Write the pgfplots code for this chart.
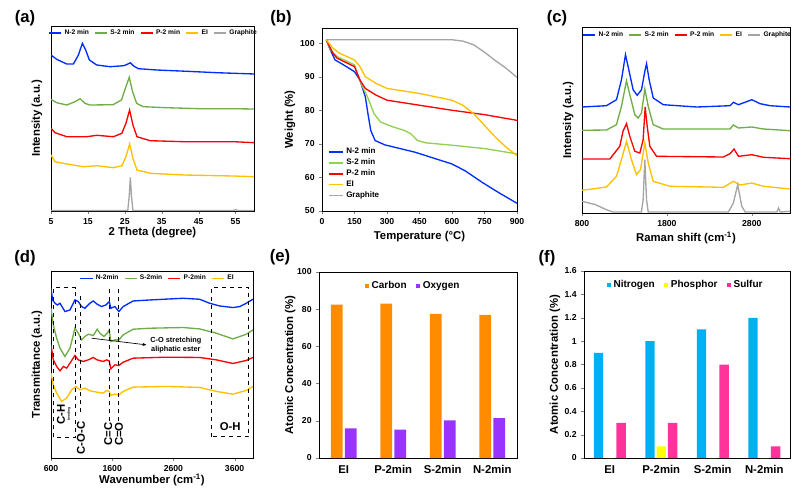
\documentclass[border=0pt]{standalone}
\usepackage{fontspec}
\setmainfont{Liberation Sans}
\usepackage{pgfplots}
\pgfplotsset{compat=1.18}
\usetikzlibrary{arrows.meta}
\definecolor{cblue}{RGB}{0,45,255}
\definecolor{cgreen}{RGB}{112,173,71}
\definecolor{lgreen}{RGB}{146,208,80}
\definecolor{cred}{RGB}{255,0,0}
\definecolor{cyel}{RGB}{255,192,0}
\definecolor{cgray}{RGB}{165,165,165}
\definecolor{corange}{RGB}{255,140,0}
\definecolor{cpurple}{RGB}{153,51,255}
\definecolor{cnit}{RGB}{0,176,240}
\definecolor{cphos}{RGB}{255,255,0}
\definecolor{csul}{RGB}{255,51,153}
\pgfplotsset{
 panel/.style={scale only axis, anchor=north west,
  axis line style={black, line width=0.6pt},
  tick label style={font=\fontsize{6.5}{7}\selectfont\bfseries},
  label style={font=\fontsize{8.5}{10}\selectfont\bfseries},
  /pgf/number format/assume math mode=true,
  /pgf/number format/1000 sep={},
  scaled ticks=false,
  major tick length=2pt, tick align=outside, xtick pos=bottom, ytick pos=left,
  legend style={draw=none, fill=none, font=\fontsize{5}{6}\selectfont\bfseries, /tikz/every even column/.append style={column sep=2pt}},
  legend image code/.code={\draw[##1,line width=1pt] (0cm,0cm) -- (0.32cm,0cm);},
  every axis plot/.append style={line width=1pt, no markers}},
 barpanel/.style={panel, xmin=-0.5, xmax=3.5, xtick={0,1,2,3},
  xticklabels={EI, P-2min, S-2min, N-2min}, x tick label style={font=\fontsize{8.5}{10}\selectfont\bfseries},
  major x tick style={draw=none}, ymin=0,
  legend style={font=\fontsize{7.5}{8.5}\selectfont\bfseries, /tikz/every even column/.append style={column sep=5pt}}},
 sqlegend/.style={legend image code/.code={\fill[##1] (0cm,-0.055cm) rectangle (0.11cm,0.055cm);}}
}
\begin{document}
\begin{tikzpicture}
\path[use as bounding box] (0,0) rectangle (601.5pt,-367.5pt);
\node[font=\fontsize{12.5}{14}\selectfont\bfseries] at (18.75pt,-13.5pt) {(a)};
\node[font=\fontsize{12.5}{14}\selectfont\bfseries] at (210.75pt,-13.5pt) {(b)};
\node[font=\fontsize{12.5}{14}\selectfont\bfseries] at (417.75pt,-13.5pt) {(c)};
\node[font=\fontsize{12.5}{14}\selectfont\bfseries] at (18.75pt,-193.5pt) {(d)};
\node[font=\fontsize{12.5}{14}\selectfont\bfseries] at (210pt,-192.75pt) {(e)};
\node[font=\fontsize{12.5}{14}\selectfont\bfseries] at (410.25pt,-193.5pt) {(f)};

% (a) XRD
\begin{axis}[panel, at={(38.25pt,-19.5pt)}, width=152.25pt, height=138.75pt,
 xmin=5, xmax=60, ymin=0, ymax=185, xtick={5,15,25,35,45,55}, ytick=\empty,
 xlabel={2 Theta (degree)}, ylabel={Intensity (a.u.)},
 xlabel style={at={(axis description cs:0.5,-0.114)}, anchor=center},
 ylabel style={at={(axis description cs:-0.069,0.5)}, anchor=center},
 legend columns=5, legend style={at={(axis description cs:0.507,0.962)}, anchor=center}]
\addplot[cblue] coordinates {(5,156)(6.54,151.7)(9.26,147)(11.07,147)(12.43,156)(13.5,167.7)(14.4,161)(15.4,151)(17.4,146)(21.0,144.3)(24.7,145.3)(25.7,146.7)(26.5,148.3)(27.4,145)(28.7,142.3)(33.7,141)(41.9,139.7)(50,138.3)(60.2,137)};
\addlegendentry{N-2 min}
\addplot[cgreen] coordinates {(5,111.7)(6.54,108.3)(9.26,106)(11.5,109.3)(12.9,112.3)(14.2,107.7)(15.6,106)(21.8,106.3)(24.1,111)(25.3,124.3)(26.2,133.7)(27.1,119.3)(28.2,107.7)(30.0,104.3)(36.3,103.3)(45.4,102.3)(54.5,102.3)(60.2,102)};
\addlegendentry{S-2 min}
\addplot[cred] coordinates {(5,82.7)(6.1,78.3)(9.26,74.3)(14.7,74.3)(17.4,75.7)(21.9,74.3)(24.2,77.7)(25.3,87.7)(26.3,101)(27.2,86)(28.3,74.3)(31.9,70.3)(41.0,69.3)(54.5,69.3)(60.2,68.3)};
\addlegendentry{P-2 min}
\addplot[cyel] coordinates {(5,56)(6.1,49.3)(9.26,47)(13.8,44.3)(17.4,45.3)(21.9,43.3)(24.2,45.3)(25.3,54.3)(26.3,67)(27.2,52.7)(28.3,41)(31.9,37.7)(41.0,36)(54.5,35)(60.2,34.3)};
\addlegendentry{EI}
\addplot[cgray] coordinates {(5,0.5)(25.8,0.5)(26.2,15)(26.5,33.7)(26.8,15)(27.2,0.5)(54.5,0.5)(55,1.5)(55.5,0.5)(60,0.5)};
\addlegendentry{Graphite}
\end{axis}

% (b) TGA
\begin{axis}[panel, at={(241.5pt,-21pt)}, width=146.25pt, height=137.25pt,
 xmin=0, xmax=900, ymin=50, ymax=104.5, xtick={0,150,...,900}, ytick={50,60,...,100},
 xlabel={Temperature (°C)}, ylabel={Weight (\%)},
 xlabel style={at={(axis description cs:0.5,-0.137)}, anchor=center},
 ylabel style={at={(axis description cs:-0.164,0.5)}, anchor=center},
 legend cell align=left,
 legend style={at={(axis description cs:0.01,0.375)}, anchor=north west, font=\fontsize{6}{7}\selectfont\bfseries, row sep=-1.6pt},
 legend image code/.code={\draw[#1,line width=1pt] (0cm,0cm) -- (0.37cm,0cm);}]
\addplot[cblue] coordinates {(20,101)(35,98.5)(60,95)(100,93.5)(150,91.5)(175,89)(200,84)(212,79)(225,74)(245,71)(290,69.7)(430,67.5)(600,64)(660,62)(740,58.5)(815,55.5)(900,52.3)};
\addlegendentry{N-2 min}
\addplot[lgreen] coordinates {(20,101)(40,98)(70,96)(150,93.5)(180,88)(210,84)(240,79)(270,76.5)(330,75)(380,74)(410,73)(440,71)(480,70.3)(600,69.6)(750,68.6)(900,67)};
\addlegendentry{S-2 min}
\addplot[cred] coordinates {(20,101)(50,97)(70,95.5)(150,93)(175,89)(200,86.5)(250,84.5)(300,83)(450,81.5)(600,80)(750,78.7)(900,77)};
\addlegendentry{P-2 min}
\addplot[cyel] coordinates {(20,101)(50,98.5)(80,97)(150,95)(175,93)(200,90)(250,88)(300,86.5)(450,85)(600,83)(650,81.5)(700,79)(750,75.5)(800,72)(850,69)(900,66.5)};
\addlegendentry{EI}
\addplot[cgray] coordinates {(20,101)(600,101)(650,100.6)(700,99.5)(750,97.3)(800,94.8)(850,92.5)(900,89.8)};
\addlegendentry{Graphite}
\end{axis}

% (c) Raman
\begin{axis}[panel, at={(436.5pt,-20.25pt)}, width=156pt, height=139.5pt,
 xmin=800, xmax=3250, ymin=0, ymax=186, xtick={800,1800,2800}, ytick=\empty,
 xlabel={Raman shift (cm\textsuperscript{-1})}, ylabel={Intensity (a.u.)},
 xlabel style={at={(axis description cs:0.5,-0.134)}, anchor=center},
 ylabel style={at={(axis description cs:-0.067,0.5)}, anchor=center},
 legend columns=5, legend style={at={(axis description cs:0.51,0.957)}, anchor=center}]
\addplot[cblue] coordinates {(800,106)(1087,107.3)(1206,113.3)(1265,133.3)(1312,158.3)(1351,143.3)(1402,123.3)(1450,117.7)(1501,123.3)(1540,141.7)(1560,149.3)(1591,133.3)(1639,115)(1757,108.3)(2150,106)(2544,107.3)(2583,110.7)(2643,108.3)(2800,113.3)(2898,109.3)(3016,107.3)(3253,106)};
\addlegendentry{N-2 min}
\addplot[cgreen] coordinates {(800,82.7)(1087,83)(1206,88.3)(1265,106.7)(1324,132.3)(1363,118.3)(1422,98.3)(1461,95)(1501,100)(1540,124)(1580,106.7)(1639,88.3)(1757,84)(2544,84)(2583,88)(2643,85)(2800,86)(2938,84)(3253,82.3)};
\addlegendentry{S-2 min}
\addplot[cred] coordinates {(800,54)(1127,54)(1245,66.7)(1284,82)(1324,89.3)(1363,76.7)(1422,61.7)(1481,60)(1520,73.3)(1544,106)(1568,86.7)(1599,66.7)(1678,56.7)(2465,56)(2544,59.3)(2591,64)(2643,56.7)(2800,58.3)(2938,55.7)(3253,54.3)};
\addlegendentry{P-2 min}
\addplot[cyel] coordinates {(800,22.7)(1087,26)(1206,36.7)(1276,56.7)(1324,71.7)(1383,53.3)(1442,38.3)(1489,43.3)(1540,70)(1580,50)(1639,31.7)(1835,26.7)(2465,25.7)(2583,31.7)(2662,28)(2800,30)(2938,26.7)(3253,24)};
\addlegendentry{EI}
\addplot[cgray] coordinates {(800,11.7)(960,8.3)(1087,3.3)(1166,1)(1500,1)(1520,13.3)(1540,53.3)(1560,13.3)(1580,1)(2524,1)(2583,10)(2634,28.3)(2682,6.7)(2722,1)(3095,1)(3115,5)(3135,1)(3253,1.7)};
\addlegendentry{Graphite}
\end{axis}

% (d) FTIR
\begin{axis}[panel, at={(38.25pt,-203.25pt)}, width=151.5pt, height=140.25pt,
 xmin=600, xmax=3900, ymin=0, ymax=187.3, xtick={600,1600,2600,3600}, ytick=\empty,
 xlabel={Wavenumber (cm\textsuperscript{-1})}, ylabel={Transmittance (a.u.)},
 xlabel style={at={(axis description cs:0.5,-0.118)}, anchor=center},
 ylabel style={at={(axis description cs:-0.069,0.5)}, anchor=center},
 legend columns=4, legend style={at={(axis description cs:0.53,0.96)}, anchor=center}]
\addplot[cblue] coordinates {(600,170)(627,158.3)(665,155)(703,153.3)(747,155)(828,146.7)(910,148.3)(991,158.3)(1046,156.7)(1100,151.7)(1154,150)(1236,155)(1290,157.3)(1355,154)(1426,151.7)(1497,153.3)(1551,156.7)(1578,150)(1643,151.7)(1709,146.7)(1779,151.7)(1942,157.3)(2214,158.3)(2758,160)(3029,159)(3192,155)(3355,152.3)(3573,150.7)(3682,151.7)(3790,155)(3899,159)};
\addlegendentry{N-2min}
\addplot[cgreen] coordinates {(600,150)(638,133.3)(692,120)(747,110)(828,101.7)(910,110)(991,130)(1046,125)(1100,118.3)(1154,121.7)(1209,124)(1290,122.7)(1355,129)(1399,125)(1464,121.7)(1518,125)(1551,128.3)(1578,116.7)(1643,118.3)(1709,118.3)(1779,123.3)(1942,129)(2214,130)(2758,130.7)(3029,129.3)(3301,125)(3573,119.3)(3790,124)(3899,128.3)};
\addlegendentry{S-2min}
\addplot[cred] coordinates {(600,113.3)(638,98.3)(692,91.7)(747,87.3)(801,91.7)(855,90)(910,95)(991,102.7)(1046,98.3)(1127,96.7)(1209,98.3)(1290,100.7)(1355,98.3)(1453,96.7)(1508,98.3)(1551,97.3)(1578,89.3)(1643,93.3)(1709,92.7)(1779,96)(1942,100)(2486,101)(3029,100.7)(3301,98.3)(3573,94.7)(3790,97.7)(3899,100.7)};
\addlegendentry{P-2min}
\addplot[cyel] coordinates {(600,85)(638,73.3)(692,65)(774,56.7)(855,60)(937,68.3)(1008,71.7)(1073,68.3)(1154,70)(1236,67.3)(1345,66)(1453,65)(1508,67.7)(1551,66.7)(1578,62.7)(1643,64)(1709,63.3)(1779,66.7)(1942,71)(2486,71.7)(3029,70.7)(3301,66.7)(3573,64)(3790,67.7)(3899,71.7)};
\addlegendentry{EI}
\draw[black, dashed, line width=0.8pt] (axis cs:638,20.7) rectangle (axis cs:997,170.7);
\draw[black, dashed, line width=0.8pt] (axis cs:3225,21.3) rectangle (axis cs:3834,171);
\draw[black, dashed, line width=0.8pt] (axis cs:1089,45.7) -- (axis cs:1089,165);
\draw[black, dashed, line width=0.8pt] (axis cs:1551,36.7) -- (axis cs:1551,170.7);
\draw[black, dashed, line width=0.8pt] (axis cs:1709,36.7) -- (axis cs:1709,170.7);
\node[rotate=90, font=\fontsize{8.5}{9}\selectfont\bfseries] at (axis cs:763,43.3) {C-H};
\node[rotate=90, font=\fontsize{2.5}{3}\selectfont\bfseries] at (axis cs:893,44) {bending};
\node[rotate=90, font=\fontsize{8.5}{9}\selectfont\bfseries] at (axis cs:1089,20) {C-O-C};
\node[rotate=90, font=\fontsize{8.5}{9}\selectfont\bfseries] at (axis cs:1535,24) {C=C};
\node[rotate=90, font=\fontsize{8.5}{9}\selectfont\bfseries] at (axis cs:1709,24) {C=O};
\node[font=\fontsize{8.5}{9}\selectfont\bfseries] at (axis cs:3529,31.7) {O-H};
\draw[black, line width=0.5pt, -{Stealth[length=3pt]}] (axis cs:1263,120) -- (axis cs:2160,113.3);
\node[align=center, font=\fontsize{5.5}{6.5}\selectfont\bfseries] at (axis cs:2640,113.3) {C-O stretching\\aliphatic ester};
\end{axis}

% (e) XPS C/O
\begin{axis}[barpanel, at={(239.25pt,-204pt)}, width=148.5pt, height=139.5pt,
 ymax=100, ytick={0,20,...,100}, ybar=1.6pt, bar width=8.8pt, sqlegend,
 ylabel={Atomic Concentration (\%)},
 ylabel style={at={(axis description cs:-0.146,0.5)}, anchor=center},
 legend columns=2, legend style={at={(axis description cs:0.477,0.925)}, anchor=center}]
\addplot[draw=none, fill=corange] coordinates {(0,82.5)(1,83)(2,77.5)(3,77)};
\addlegendentry{Carbon}
\addplot[draw=none, fill=cpurple] coordinates {(0,16)(1,15.3)(2,20.3)(3,21.5)};
\addlegendentry{Oxygen}
\end{axis}

% (f) XPS N/P/S
\begin{axis}[barpanel, at={(438pt,-203.25pt)}, width=154.5pt, height=140.25pt,
 ymax=1.6, ytick={0,0.2,...,1.6}, ybar=1.5pt, bar width=7pt, sqlegend,
 yticklabel style={/pgf/number format/fixed},
 ylabel={Atomic Concentration (\%)},
 ylabel style={at={(axis description cs:-0.141,0.5)}, anchor=center},
 legend columns=3, legend style={at={(axis description cs:0.495,0.927)}, anchor=center}]
\addplot[draw=none, fill=cnit] coordinates {(0,0.9)(1,1.0)(2,1.1)(3,1.2)};
\addlegendentry{Nitrogen}
\addplot[draw=none, fill=cphos] coordinates {(0,0)(1,0.1)(2,0)(3,0)};
\addlegendentry{Phosphor}
\addplot[draw=none, fill=csul] coordinates {(0,0.3)(1,0.3)(2,0.8)(3,0.1)};
\addlegendentry{Sulfur}
\end{axis}
\end{tikzpicture}
\end{document}
